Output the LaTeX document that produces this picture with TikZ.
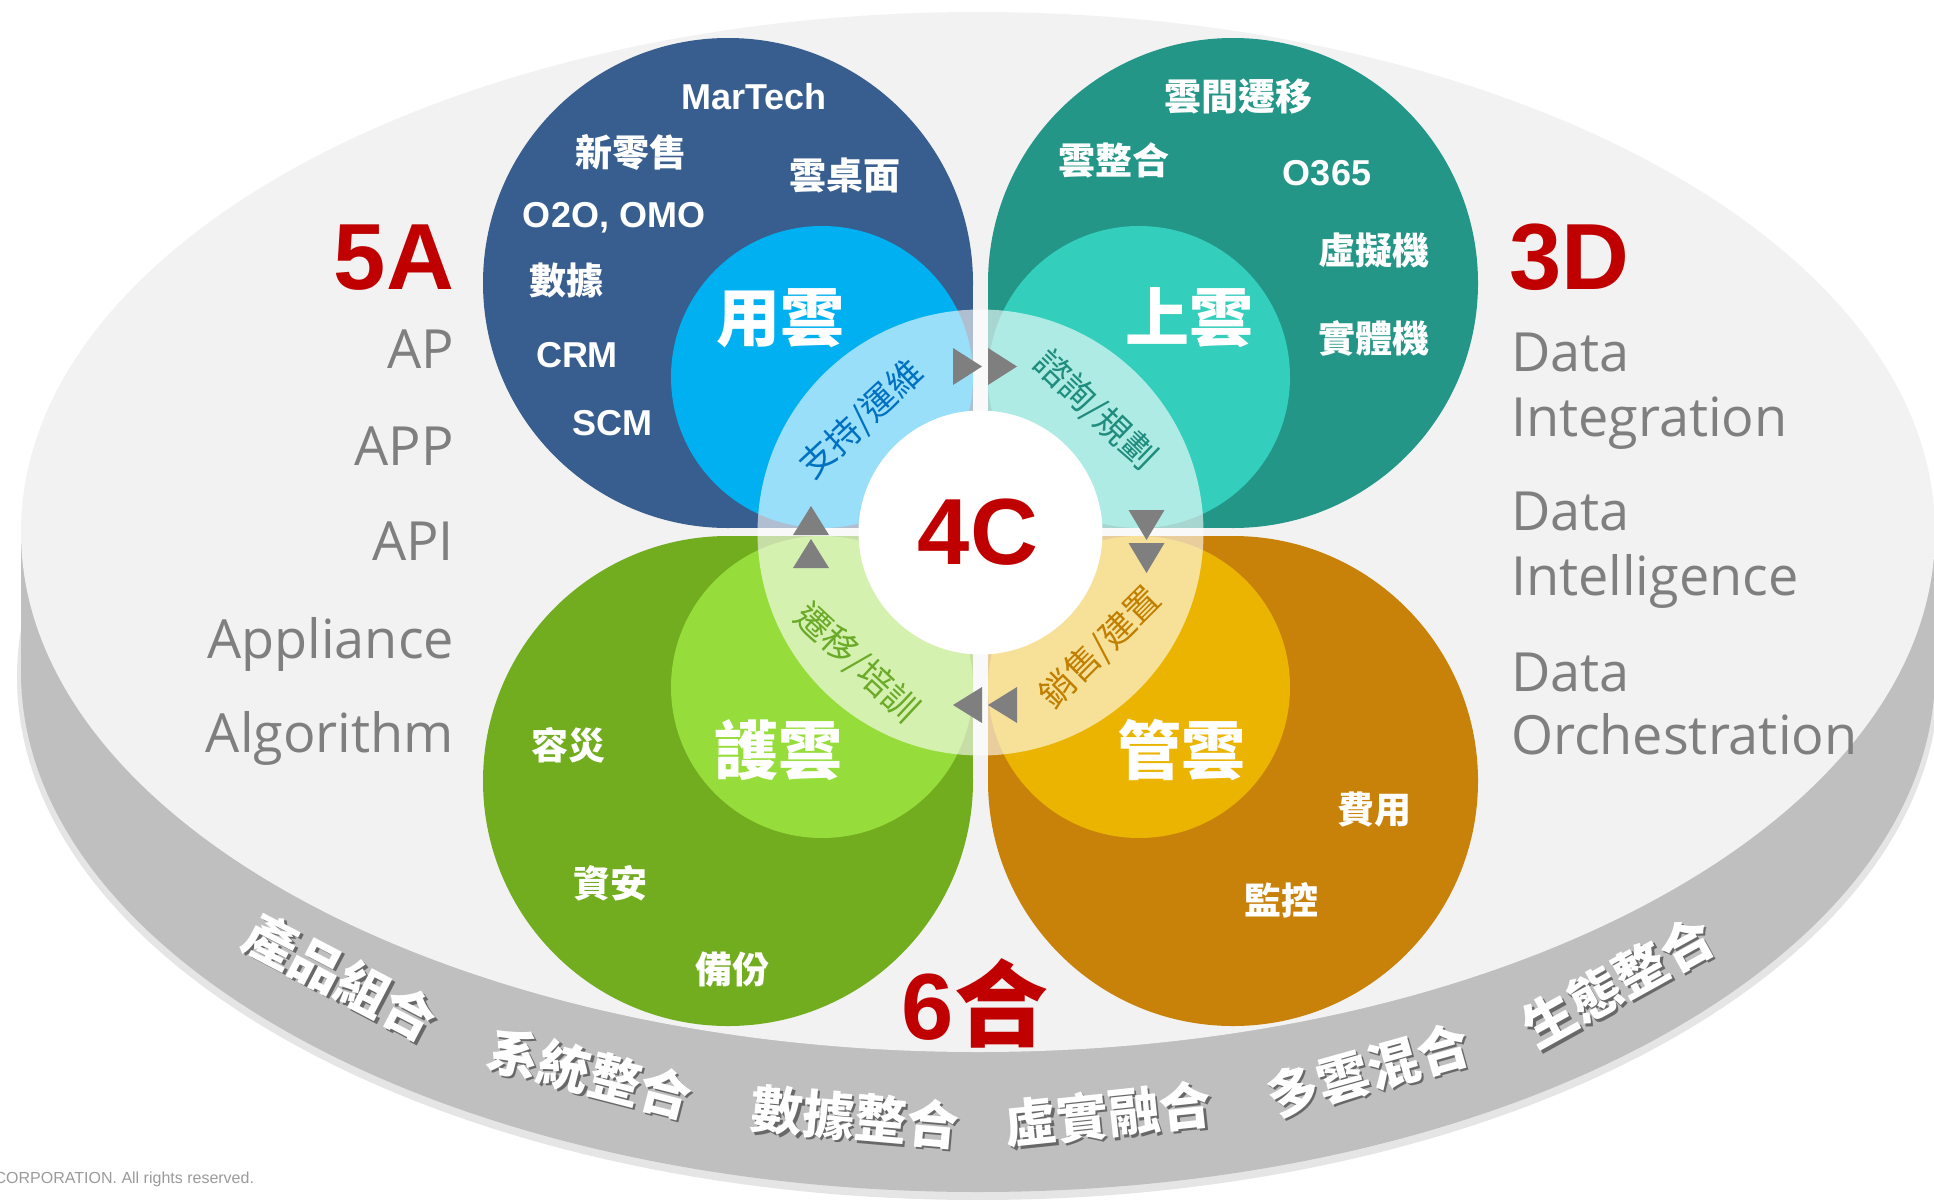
\documentclass[tikz,border=0pt]{standalone}
\usepackage{fontspec}
\setmainfont{Liberation Sans}
\newfontfamily\cjk{Noto Sans CJK TC}
\newfontfamily\osans{Open Sans}
\newcommand\fsz[1]{\fontsize{#1}{#1}\selectfont}
\definecolor{topface}{HTML}{F2F2F2}
\definecolor{sideface}{HTML}{BFBFBF}
\definecolor{pblue}{HTML}{375E8E}
\definecolor{iblue}{HTML}{00B0F0}
\definecolor{pteal}{HTML}{239687}
\definecolor{iteal}{HTML}{33CEBC}
\definecolor{pgreen}{HTML}{72AD1F}
\definecolor{igreen}{HTML}{96DC3A}
\definecolor{porange}{HTML}{C8820A}
\definecolor{iyellow}{HTML}{EBB400}
\definecolor{myred}{HTML}{C00000}
\definecolor{txtgray}{HTML}{7F7F7F}
\definecolor{cgray}{HTML}{9A9A9A}
\definecolor{arrgray}{HTML}{7F7F7F}
\definecolor{tblue}{HTML}{0070C0}
\definecolor{tteal}{HTML}{1F8C7D}
\definecolor{torange}{HTML}{C07F00}
\definecolor{tgreen}{HTML}{6AAA28}
\begin{document}
\begin{tikzpicture}[x=1pt,y=-1pt,
  every node/.style={inner sep=0pt, outer sep=0pt},
  lat/.style={text=white, font=\bfseries\fsz{36}},
  cj/.style={text=white, font=\cjk\bfseries\fsz{37}},
  bigc/.style={text=white, font=\cjk\bfseries\fsz{64}},
  lst/.style={text=txtgray, font=\osans\fsz{54}, anchor=base east},
  rst/.style={text=txtgray, font=\osans\fsz{54}, anchor=base west},
  hd/.style={text=myred, font=\bfseries\fsz{94}},
  ringt/.style={font=\cjk\fsz{35}},
  rim/.style={text=white, font=\cjk\bfseries\fsz{52}},
  rimsh/.style={text=black, text opacity=0.45, font=\cjk\bfseries\fsz{52}},
  tri/.style={fill=arrgray}]
\useasboundingbox (0,0) rectangle (1934,1199);
% platform
\fill[black, opacity=0.10] (978,677) ellipse [x radius=961, y radius=523];
\fill[sideface] (21,532) rectangle (1935,672);
\fill[sideface] (978,672) ellipse [x radius=957, y radius=520];
\fill[topface] (978,532) ellipse [x radius=957, y radius=520];
% petals
\fill[pblue] (728,283) circle [radius=245];
\fill[pblue] (728,283) rectangle (973,528);
\fill[pteal] (1233,283) circle [radius=245];
\fill[pteal] (988,283) rectangle (1233,528);
\fill[pgreen] (728,781) circle [radius=245];
\fill[pgreen] (728,536) rectangle (973,781);
\fill[porange] (1233,781) circle [radius=245];
\fill[porange] (988,536) rectangle (1233,781);
% inner circles
\fill[iblue] (822,377) circle [radius=151];
\fill[iteal] (1139,377) circle [radius=151];
\fill[igreen] (822,687) circle [radius=151];
\fill[iyellow] (1139,687) circle [radius=151];
% ring
\coordinate (C) at (980.5,532.5);
\fill[white, opacity=0.6] (C) circle [radius=223];
\fill[white] (C) circle [radius=122];
% triangles
\fill[tri] (953,348) -- (982,366.5) -- (953,385) -- cycle;
\fill[tri] (988,348) -- (1017,366.5) -- (988,385) -- cycle;
\fill[tri] (1128.5,510) -- (1164.5,510) -- (1146.5,540) -- cycle;
\fill[tri] (1128.5,543) -- (1164.5,543) -- (1146.5,573) -- cycle;
\fill[tri] (1017,687) -- (988,705) -- (1017,723) -- cycle;
\fill[tri] (982,687) -- (953,705) -- (982,723) -- cycle;
\fill[tri] (793,568) -- (829,568) -- (811,539) -- cycle;
\fill[tri] (793,535) -- (829,535) -- (811,506) -- cycle;
% ring labels
\node[ringt, text=tblue, rotate=43] (r1) at (862,420) {支持/運維};
\node[ringt, text=tteal, rotate=-44] (r2) at (1095,410) {諮詢/規劃};
\node[ringt, text=torange, rotate=45] (r3) at (1101,648) {銷售/建置};
\node[ringt, text=tgreen, rotate=-43] (r4) at (857,663) {遷移/培訓};
% top-left petal texts
\node[lat] (a1) at (754,97) {MarTech};
\node[cj] (a2) at (631,152) {新零售};
\node[cj] (a3) at (845,175) {雲桌面};
\node[lat] (a4) at (614,218) {O2O, OMO};
\node[cj] (a5) at (566,281) {數據};
\node[lat] (a6) at (577,355) {CRM};
\node[lat] (a7) at (612,423) {SCM};
\node[bigc] (a8) at (780,318) {用雲};
% top-right petal texts
\node[cj] (b1) at (1238,97) {雲間遷移};
\node[cj] (b2) at (1114,160) {雲整合};
\node[lat] (b3) at (1327,173) {O365};
\node[cj] (b4) at (1374,250) {虛擬機};
\node[cj] (b5) at (1374,338) {實體機};
\node[bigc] (b6) at (1189,318) {上雲};
% bottom-left petal texts
\node[cj] (c1) at (568,745) {容災};
\node[bigc] (c2) at (778,750) {護雲};
\node[cj] (c3) at (610,883) {資安};
\node[cj] (c4) at (732,970) {備份};
% bottom-right petal texts
\node[bigc] (d1) at (1181,750) {管雲};
\node[cj] (d2) at (1374,810) {費用};
\node[cj] (d3) at (1281,900) {監控};
% headings
\node[hd, anchor=base east] (h5a) at (454,289) {5A};
\node[hd, anchor=base west] (h3d) at (1509,289) {3D};
\node[hd] (h4c) at (978,532) {4C};
\node[hd, anchor=base] (h6) at (975,1039) {6{\cjk 合}};
% left list
\node[lst] (l1) at (454,368) {AP};
\node[lst] (l2) at (454,465) {APP};
\node[lst] (l3) at (454,560) {API};
\node[lst] (l4) at (454,658) {Appliance};
\node[lst] (l5) at (454,752) {Algorithm};
% right list
\node[rst] (q1) at (1511,371) {Data};
\node[rst] (q2) at (1511,436) {Integration};
\node[rst] (q3) at (1511,530) {Data};
\node[rst] (q4) at (1511,595) {Intelligence};
\node[rst] (q5) at (1511,691) {Data};
\node[rst] (q6) at (1511,754) {Orchestration};
% rim texts
\node[rimsh, rotate=-27.6] (s1s) at (343.5,979.5) {產品組合};
\node[rim, rotate=-27.6] (s1) at (341,977) {產品組合};
\node[rimsh, rotate=-14.4] (s2s) at (592.5,1075.5) {系統整合};
\node[rim, rotate=-14.4] (s2) at (590,1073) {系統整合};
\node[rimsh, rotate=-5] (s3s) at (857.5,1119.5) {數據整合};
\node[rim, rotate=-5] (s3) at (855,1117) {數據整合};
\node[rimsh, rotate=6] (s4s) at (1110.5,1116.5) {虛實融合};
\node[rim, rotate=6] (s4) at (1108,1114) {虛實融合};
\node[rimsh, rotate=15.7] (s5s) at (1370.5,1072.5) {多雲混合};
\node[rim, rotate=15.7] (s5) at (1368,1070) {多雲混合};
\node[rimsh, rotate=29] (s6s) at (1620.5,984.5) {生態整合};
\node[rim, rotate=29] (s6) at (1618,982) {生態整合};
% copyright
\node[anchor=base east, text=cgray, font=\fsz{16}] (copy) at (254,1183) {CORPORATION. All rights reserved.};
\end{tikzpicture}
\end{document}
